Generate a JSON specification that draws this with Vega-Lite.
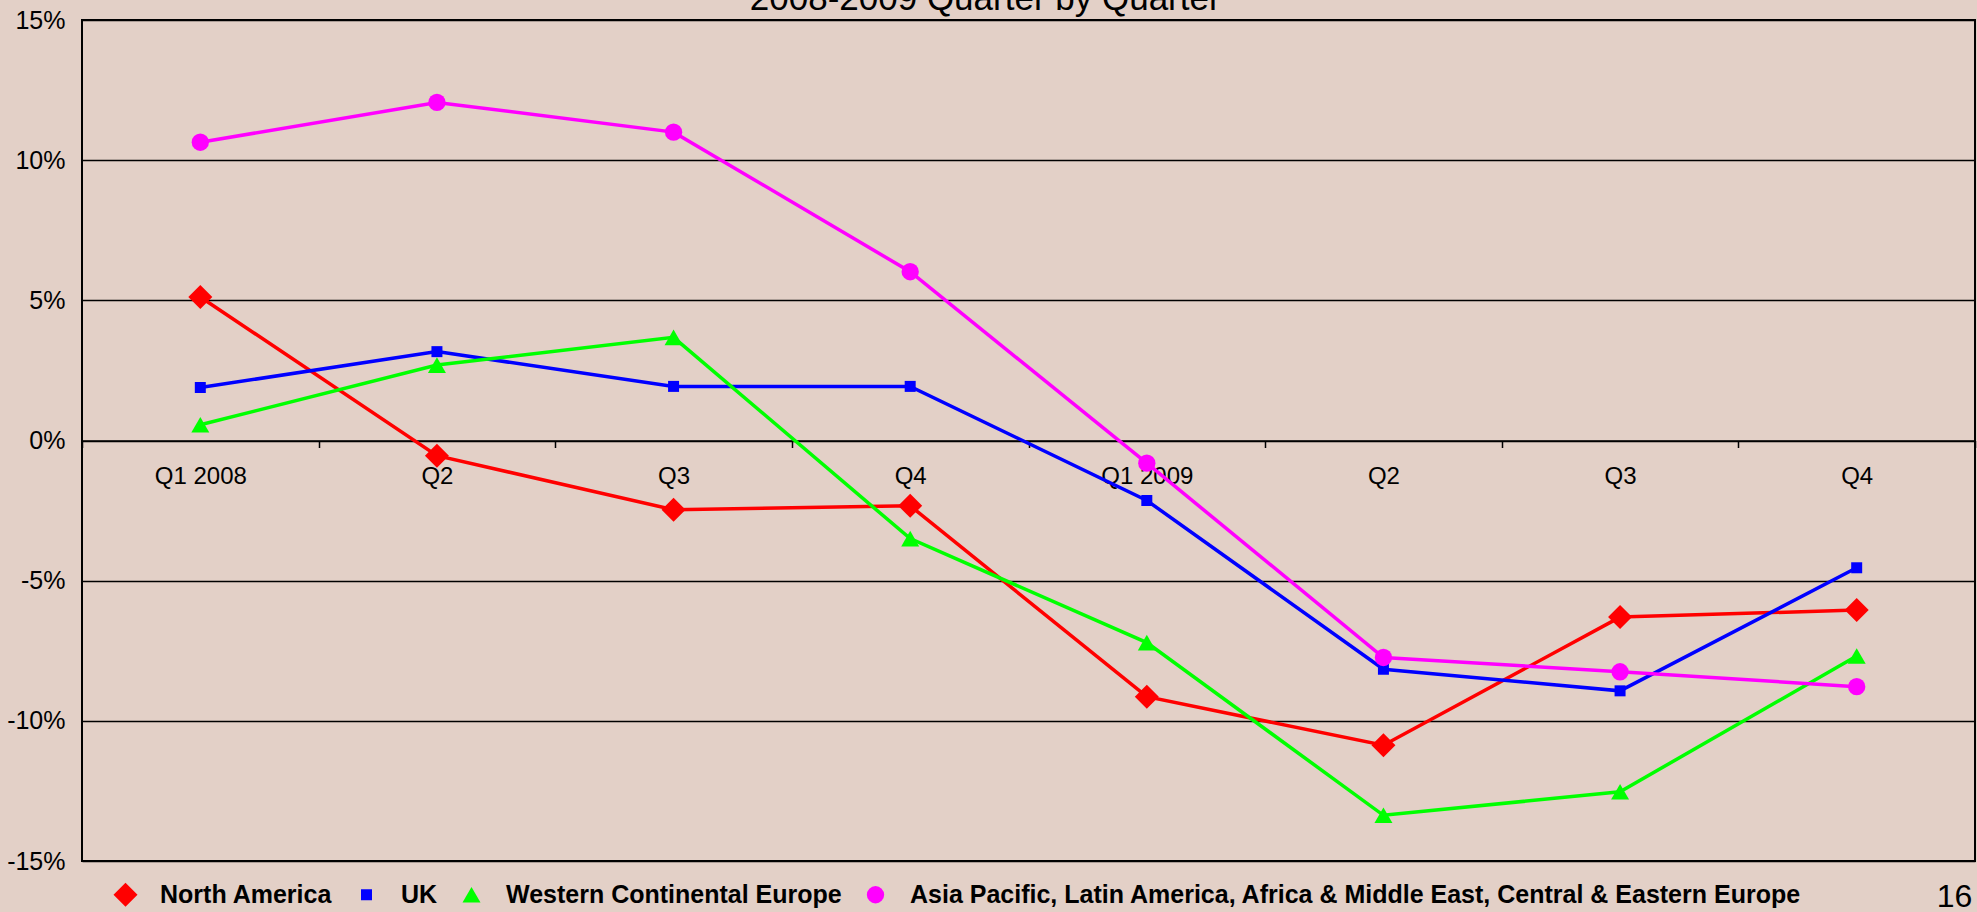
{
  "$schema": "https://vega.github.io/schema/vega-lite/v6.json",
  "width": 1893,
  "height": 841,
  "autosize": {"type": "none"},
  "padding": {"left": 82, "top": 20, "right": 2, "bottom": 51},
  "background": "#E3D0C7",
  "config": {
    "font": "Liberation Sans",
    "view": {"stroke": "black", "strokeWidth": 2}
  },
  "datasets": {
    "growth": [
      {"q": "Q1 2008", "series": "North America", "v": 5.12},
      {"q": "Q2", "series": "North America", "v": -0.54},
      {"q": "Q3", "series": "North America", "v": -2.47},
      {"q": "Q4", "series": "North America", "v": -2.33},
      {"q": "Q1 2009", "series": "North America", "v": -9.14},
      {"q": "Q2 ", "series": "North America", "v": -10.87},
      {"q": "Q3 ", "series": "North America", "v": -6.3},
      {"q": "Q4 ", "series": "North America", "v": -6.05},
      {"q": "Q1 2008", "series": "UK", "v": 1.89},
      {"q": "Q2", "series": "UK", "v": 3.17},
      {"q": "Q3", "series": "UK", "v": 1.93},
      {"q": "Q4", "series": "UK", "v": 1.93},
      {"q": "Q1 2009", "series": "UK", "v": -2.14},
      {"q": "Q2 ", "series": "UK", "v": -8.16},
      {"q": "Q3 ", "series": "UK", "v": -8.93},
      {"q": "Q4 ", "series": "UK", "v": -4.54},
      {"q": "Q1 2008", "series": "Western Continental Europe", "v": 0.56},
      {"q": "Q2", "series": "Western Continental Europe", "v": 2.69},
      {"q": "Q3", "series": "Western Continental Europe", "v": 3.68},
      {"q": "Q4", "series": "Western Continental Europe", "v": -3.5},
      {"q": "Q1 2009", "series": "Western Continental Europe", "v": -7.21},
      {"q": "Q2 ", "series": "Western Continental Europe", "v": -13.37},
      {"q": "Q3 ", "series": "Western Continental Europe", "v": -12.53},
      {"q": "Q4 ", "series": "Western Continental Europe", "v": -7.69},
      {"q": "Q1 2008", "series": "Asia Pacific, Latin America,  Africa & Middle East, Central & Eastern Europe", "v": 10.64},
      {"q": "Q2", "series": "Asia Pacific, Latin America,  Africa & Middle East, Central & Eastern Europe", "v": 12.06},
      {"q": "Q3", "series": "Asia Pacific, Latin America,  Africa & Middle East, Central & Eastern Europe", "v": 11.0},
      {"q": "Q4", "series": "Asia Pacific, Latin America,  Africa & Middle East, Central & Eastern Europe", "v": 6.02},
      {"q": "Q1 2009", "series": "Asia Pacific, Latin America,  Africa & Middle East, Central & Eastern Europe", "v": -0.81},
      {"q": "Q2 ", "series": "Asia Pacific, Latin America,  Africa & Middle East, Central & Eastern Europe", "v": -7.74},
      {"q": "Q3 ", "series": "Asia Pacific, Latin America,  Africa & Middle East, Central & Eastern Europe", "v": -8.25},
      {"q": "Q4 ", "series": "Asia Pacific, Latin America,  Africa & Middle East, Central & Eastern Europe", "v": -8.78}
    ],
    "heading": [{"q": "Q4", "v": 15.36, "label": "2008-2009 Quarter by Quarter"}],
    "page": [{"q": "Q4 ", "v": -16.3, "label": "16"}]
  },
  "data": {"name": "growth"},
  "encoding": {
    "x": {
      "field": "q",
      "type": "nominal",
      "sort": null,
      "scale": {"domain": ["Q1 2008", "Q2", "Q3", "Q4", "Q1 2009", "Q2 ", "Q3 ", "Q4 "], "paddingInner": 0, "paddingOuter": 0},
      "axis": {
        "title": null,
        "orient": "bottom",
        "offset": -420.5,
        "labelAngle": 0,
        "labelFontSize": 24,
        "labelColor": "black",
        "labelPadding": 17,
        "domainColor": "black",
        "domainWidth": 1.5,
        "tickColor": "black",
        "tickWidth": 1.5,
        "tickSize": 7,
        "tickBand": "extent",
        "grid": false,
        "zindex": 0
      }
    },
    "y": {
      "field": "v",
      "type": "quantitative",
      "scale": {"domain": [-15, 15], "nice": false, "zero": false},
      "axis": {
        "title": null,
        "values": [-15, -10, -5, 0, 5, 10, 15],
        "labelExpr": "datum.value + '%'",
        "labelFontSize": 25,
        "labelColor": "black",
        "labelPadding": 17,
        "ticks": false,
        "domain": false,
        "grid": true,
        "gridColor": "black",
        "gridWidth": 1.5,
        "gridOpacity": 1,
        "zindex": 0
      }
    }
  },
  "layer": [
    {
      "mark": {"type": "line", "strokeWidth": 3.5},
      "encoding": {
        "color": {
          "field": "series",
          "type": "nominal",
          "scale": {
            "domain": ["North America", "UK", "Western Continental Europe", "Asia Pacific, Latin America,  Africa & Middle East, Central & Eastern Europe"],
            "range": ["#FF0000", "#0000FF", "#00FF00", "#FF00FF"]
          },
          "legend": {
            "orient": "none",
            "legendX": 31,
            "legendY": 862,
            "direction": "horizontal",
            "title": null,
            "padding": 0,
            "symbolSize": 484,
            "labelOffset": 22,
            "columnPadding": 21,
            "labelFontSize": 25,
            "labelFontWeight": "bold",
            "labelColor": "black",
            "labelLimit": 3000,
            "encode": {
              "symbols": {
                "update": {
                  "shape": [
                    {"test": "datum.value === 'North America'", "value": "M-2,-0.15L-0.85,-0.15L0,-1L0.85,-0.15L2,-0.15L2,0.15L0.85,0.15L0,1L-0.85,0.15L-2,0.15Z"},
                    {"test": "datum.value === 'UK'", "value": "M-2,-0.15L-0.45,-0.15L-0.45,-0.45L0.45,-0.45L0.45,-0.15L2,-0.15L2,0.15L0.45,0.15L0.45,0.45L-0.45,0.45L-0.45,0.15L-2,0.15Z"},
                    {"test": "datum.value === 'Western Continental Europe'", "value": "M-2,-0.15L-0.352,-0.15L0,-0.75L0.352,-0.15L2,-0.15L2,0.15L0.528,0.15L0.85,0.7L-0.85,0.7L-0.528,0.15L-2,0.15Z"},
                    {"value": "M-2,-0.15L-0.7348,-0.15A0.75,0.75,0,0,1,0.7348,-0.15L2,-0.15L2,0.15L0.7348,0.15A0.75,0.75,0,0,1,-0.7348,0.15L-2,0.15Z"}
                  ],
                  "size": {"value": 484},
                  "fill": {"scale": "color", "field": "value"},
                  "strokeWidth": {"value": 0},
                  "opacity": {"value": 1}
                }
              }
            }
          }
        }
      }
    },
    {
      "mark": {"type": "point", "filled": true, "opacity": 1},
      "encoding": {
        "fill": {
          "field": "series",
          "type": "nominal",
          "scale": {
            "domain": ["North America", "UK", "Western Continental Europe", "Asia Pacific, Latin America,  Africa & Middle East, Central & Eastern Europe"],
            "range": ["#FF0000", "#0000FF", "#00FF00", "#FF00FF"]
          },
          "legend": null
        },
        "shape": {
          "field": "series",
          "type": "nominal",
          "scale": {
            "domain": ["North America", "UK", "Western Continental Europe", "Asia Pacific, Latin America,  Africa & Middle East, Central & Eastern Europe"],
            "range": ["diamond", "square", "triangle-up", "circle"]
          },
          "legend": null
        },
        "size": {
          "field": "series",
          "type": "nominal",
          "scale": {
            "type": "ordinal",
            "domain": ["North America", "UK", "Western Continental Europe", "Asia Pacific, Latin America,  Africa & Middle East, Central & Eastern Europe"],
            "range": [576, 121, 324, 300]
          },
          "legend": null
        }
      }
    },
    {
      "data": {"name": "heading"},
      "mark": {"type": "text", "clip": false, "align": "center", "baseline": "alphabetic", "fontSize": 35, "color": "black", "dx": 75},
      "encoding": {
        "text": {"field": "label", "type": "nominal"}
      }
    },
    {
      "data": {"name": "page"},
      "mark": {"type": "text", "clip": false, "align": "left", "baseline": "middle", "fontSize": 32, "color": "black", "dx": 80},
      "encoding": {
        "text": {"field": "label", "type": "nominal"}
      }
    }
  ]
}
